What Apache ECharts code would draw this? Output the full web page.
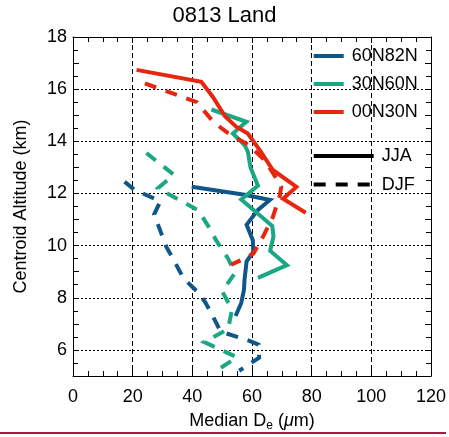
<!DOCTYPE html>
<html><head><meta charset="utf-8">
<script src="https://cdn.jsdelivr.net/npm/echarts@6/dist/echarts.min.js"></script>
<style>html,body{margin:0;padding:0;background:#fff}#c{width:449px;height:437px}</style>
</head><body><div id="c"></div>
<script>
const FONT = 'Liberation Sans';
const xTickValues = [0, 20, 40, 60, 80, 100, 120];
const yTickLabels = [6, 8, 10, 12, 14, 16, 18];
const regions = ['60N82N', '30N60N', '00N30N'];
const seasons = ['JJA', 'DJF'];
const regionColors = ['#0f5689', '#1aa884', '#e6260f'];

// [Median De (um), Centroid Altitude (km)]
const blueJJA = [[39.8,12.26],[57.5,11.95],[66,11.75],[62,11.37],[58.2,10.8],[60.3,10.2],[60.4,9.75],[58.2,9.4],[57.5,8.7],[57.3,8.3],[56.4,7.8],[54.5,7.3]];
const blueDJF = [[17.3,12.45],[20.5,12.15],[29.3,11.7],[27.2,11.2],[31.3,9.95],[34,9.4],[37,8.75],[42,8.2],[44.5,7.8],[47.5,7.15],[49.5,6.7],[59.2,6.35],[62.2,6.2],[62.4,5.7],[55.7,5.2]];
const greenJJA = [[46.4,15.22],[58.1,14.75],[53.6,14.3],[57.5,13.86],[58.6,13.6],[59.5,13.0],[62,12.3],[56.4,11.77],[66.8,10.75],[67.2,10.35],[66.1,9.8],[71.7,9.25],[62,8.76]];
const greenDJF = [[24.6,13.55],[33.8,12.72],[28.5,12.2],[42,11.35],[45.6,10.7],[48,10.2],[52,9.5],[54.3,8.95],[50,8.25],[53.3,7.55],[52,6.8],[44,6.3],[55,5.72],[48,5.2]];
const redJJA = [[21.3,16.74],[43,16.28],[46.9,15.7],[51,14.95],[54.7,14.56],[58.6,14.3],[62.6,13.66],[67,12.9],[74.9,12.25],[70.4,11.8],[78,11.26]];
const redDJF = [[24.1,16.22],[41.5,15.5],[47,14.75],[51.5,14.35],[59,13.85],[64,13.3],[67.5,12.7],[69.8,12.25],[69.3,11.9],[67,11.1],[63.5,10.3],[60.5,9.7],[56.5,9.45],[53,9.27]];

const seriesData = [[blueJJA, blueDJF], [greenJJA, greenDJF], [redJJA, redDJF]];
const DASH = [12, 10];

const series = [];
regions.forEach((name, i) => {
  seasons.forEach((s, j) => {
    series.push({
      name: name, type: 'line', xAxisIndex: 0, yAxisIndex: 0,
      data: seriesData[i][j], showSymbol: false, symbol: 'none',
      color: regionColors[i],
      lineStyle: { color: regionColors[i], width: 4, type: j === 0 ? 'solid' : DASH, cap: 'butt', join: 'miter' },
      z: 3
    });
  });
});
seasons.forEach((s, j) => {
  series.push({
    name: s, type: 'line', xAxisIndex: 0, yAxisIndex: 0, data: [], symbol: 'none', showSymbol: false,
    color: '#000', lineStyle: { color: '#000', width: 4, type: j === 0 ? 'solid' : DASH }
  });
});

const tickStyle = { show: true, inside: true, length: 6, lineStyle: { color: '#000', width: 1 } };
const minorStyle = { show: true, length: 5, lineStyle: { color: '#000', width: 1 } };
const lbl = { color: '#000', fontSize: 18, fontFamily: FONT };

const chart = echarts.init(document.getElementById('c'), null, { renderer: 'canvas' });
chart.setOption({
  animation: false,
  backgroundColor: '#fff',
  title: {
    text: '0813 Land', left: 'center', top: 5, padding: [0, 0, 0, 55],
    textStyle: { fontSize: 22, fontWeight: 'normal', color: '#000', fontFamily: FONT }
  },
  grid: { left: 73, right: 18, top: 37, bottom: 60, containLabel: false },
  xAxis: [{
    type: 'value', position: 'bottom', min: xTickValues[0], max: xTickValues[xTickValues.length - 1], interval: 20,
    axisLine: { show: true, onZero: false, lineStyle: { color: '#000', width: 1 } },
    axisTick: tickStyle, minorTick: Object.assign({ splitNumber: 4 }, minorStyle),
    axisLabel: Object.assign({ margin: 12 }, lbl),
    splitLine: { show: true, lineStyle: { color: '#000', width: 1, type: [5, 3] } },
    name: '{a|Median D}{s|e}{a| (}{m|μ}{a|m)}', nameLocation: 'middle', nameGap: 34,
    nameTextStyle: { rich: {
      a: { fontSize: 18, fontFamily: FONT, color: '#000' },
      s: { fontSize: 12, fontFamily: FONT, color: '#000', padding: [10, 0, 0, 0] },
      m: { fontSize: 18, fontFamily: FONT, color: '#000', fontStyle: 'italic' }
    } }
  }, {
    type: 'value', position: 'top', min: xTickValues[0], max: xTickValues[xTickValues.length - 1], interval: 20,
    axisLine: { show: true, onZero: false, lineStyle: { color: '#000', width: 1 } },
    axisTick: tickStyle, minorTick: Object.assign({ splitNumber: 4 }, minorStyle),
    axisLabel: { show: false }, splitLine: { show: false }
  }],
  yAxis: [{
    type: 'value', position: 'left', min: 5, max: 18, interval: 1,
    axisLine: { show: true, onZero: false, lineStyle: { color: '#000', width: 1 } },
    axisTick: tickStyle, minorTick: Object.assign({ splitNumber: 2 }, minorStyle),
    axisLabel: Object.assign({ margin: 6, formatter: v => (yTickLabels.indexOf(v) >= 0 ? String(v) : '') }, lbl),
    splitLine: { show: true, lineStyle: { color: ['transparent', '#000'], width: 1, type: [2, 2] } },
    name: 'Centroid Altitude (km)', nameLocation: 'middle', nameGap: 43, nameRotate: 90,
    nameTextStyle: { fontSize: 18, fontFamily: FONT, color: '#000' }
  }, {
    type: 'value', position: 'right', min: 5, max: 18, interval: 1,
    axisLine: { show: true, onZero: false, lineStyle: { color: '#000', width: 1 } },
    axisTick: tickStyle, minorTick: Object.assign({ splitNumber: 2 }, minorStyle),
    axisLabel: { show: false }, splitLine: { show: false }
  }],
  legend: [{
    data: regions, orient: 'vertical', left: 311.7, top: 47, padding: 0, itemWidth: 30, itemHeight: 14, itemGap: 10,
    selectedMode: false, lineStyle: { width: 4 }, itemStyle: { opacity: 0 },
    textStyle: { fontSize: 18, fontFamily: FONT, color: '#000', padding: [0, 0, 0, 3] }
  }, {
    data: seasons, orient: 'vertical', left: 311.7, top: 147, padding: 0, itemWidth: 60, itemHeight: 14, itemGap: 10.6,
    selectedMode: false, lineStyle: { width: 4 }, itemStyle: { opacity: 0 },
    textStyle: { fontSize: 18, fontFamily: FONT, color: '#000', padding: [0, 0, 0, 3] }
  }],
  graphic: [{
    type: 'line', shape: { x1: 0, y1: 433, x2: 446, y2: 433 },
    style: { stroke: '#b3163c', lineWidth: 2 }, silent: true
  }],
  series: series
});
</script></body></html>
